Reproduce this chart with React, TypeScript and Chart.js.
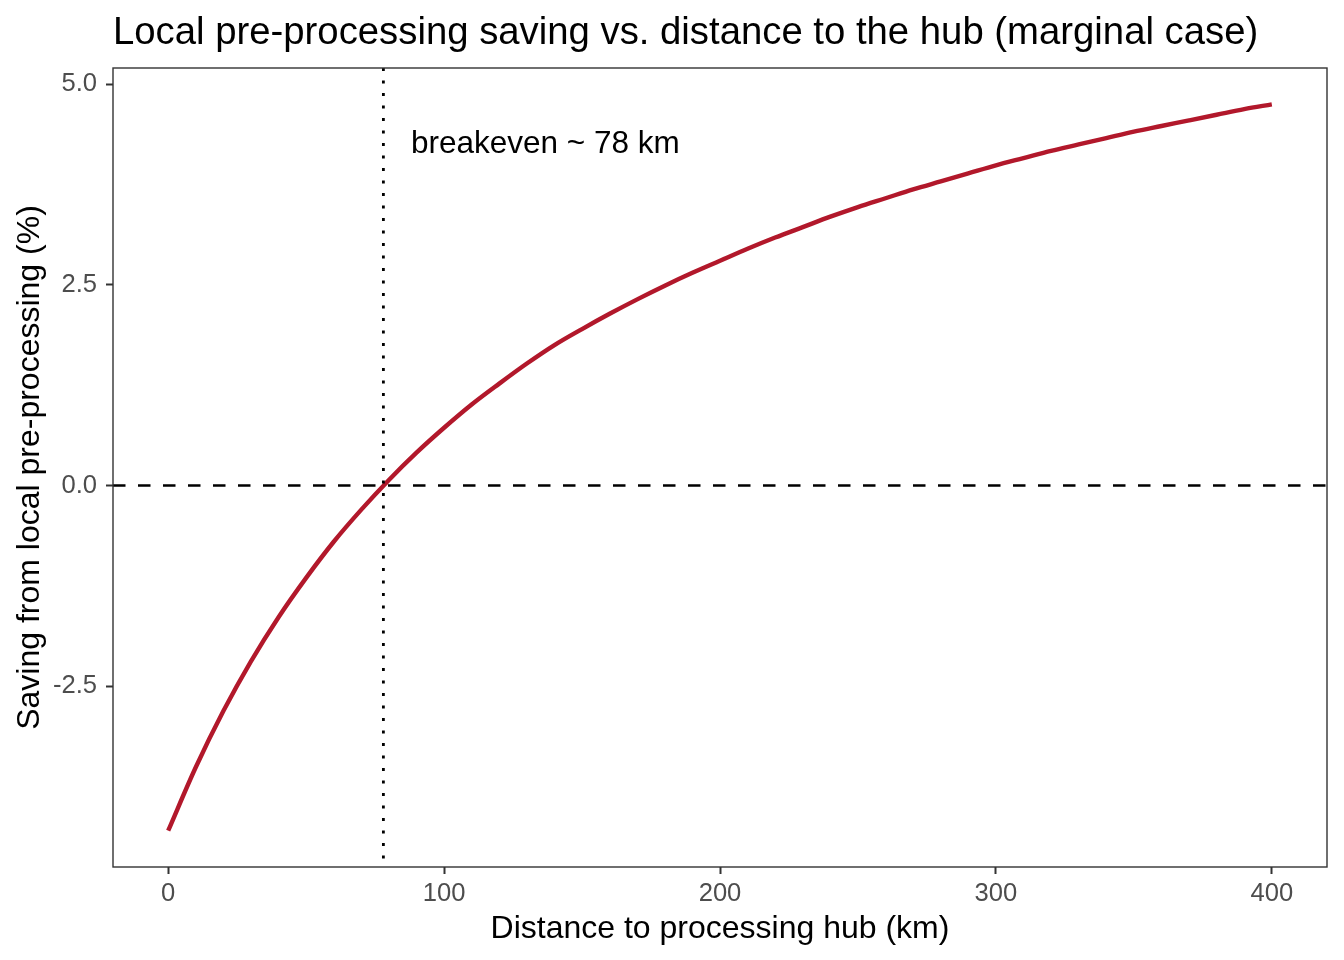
import { useEffect, useRef } from 'react'
import { Chart, registerables, Plugin } from 'chart.js'

Chart.register(...registerables)

// distance to the processing hub (km)
const distanceKm = [
  0, 10, 20, 30, 40, 50, 60, 70, 80, 90,
  100, 110, 120, 130, 140, 150, 160, 170, 180, 190,
  200, 210, 220, 230, 240, 250, 260, 270, 280, 290,
  300, 310, 320, 330, 340, 350, 360, 370, 380, 390, 400,
]

// saving from local pre-processing (%)
const savingPct = [
  -4.30, -3.51, -2.81, -2.19, -1.64, -1.15, -0.70, -0.30, 0.07, 0.41,
  0.72, 1.01, 1.27, 1.52, 1.75, 1.95, 2.14, 2.32, 2.49, 2.65,
  2.80, 2.95, 3.09, 3.22, 3.35, 3.47, 3.58, 3.69, 3.79, 3.89,
  3.99, 4.08, 4.17, 4.25, 4.33, 4.41, 4.48, 4.55, 4.62, 4.69, 4.75,
]

const xTicks = [0, 100, 200, 300, 400]
const yTicks = [-2.5, 0, 2.5, 5]

const breakevenKm = 78
const zeroLine = 0
const noteText = 'breakeven ~ 78 km'
const noteX = 88
const noteY = 4.25

const chartTitle = 'Local pre-processing saving vs. distance to the hub (marginal case)'
const xTitle = 'Distance to processing hub (km)'
const yTitle = 'Saving from local pre-processing (%)'

const FONT = '"Liberation Sans", Arial, Helvetica, sans-serif'

const decor: Plugin<'line'> = {
  id: 'decor',
  afterDatasetsDraw(chart) {
    const { ctx, chartArea: a, scales } = chart
    const x = scales.x
    const y = scales.y
    ctx.save()
    ctx.beginPath()
    ctx.rect(a.left, a.top, a.right - a.left, a.bottom - a.top)
    ctx.clip()
    ctx.strokeStyle = '#000000'
    ctx.lineCap = 'butt'

    // dashed line at zero
    const y0 = y.getPixelForValue(zeroLine)
    ctx.lineWidth = 2.6
    ctx.setLineDash([12.5, 12.5])
    ctx.beginPath()
    ctx.moveTo(a.left, y0)
    ctx.lineTo(a.right, y0)
    ctx.stroke()

    // dotted breakeven line
    const xb = x.getPixelForValue(breakevenKm)
    ctx.lineWidth = 2.8
    ctx.setLineDash([3, 9.5])
    ctx.beginPath()
    ctx.moveTo(xb, a.top)
    ctx.lineTo(xb, a.bottom)
    ctx.stroke()
    ctx.restore()
  },
  afterDraw(chart) {
    const { ctx, chartArea: a, scales } = chart
    ctx.save()
    // panel border
    ctx.strokeStyle = '#333333'
    ctx.lineWidth = 1.4
    ctx.setLineDash([])
    ctx.strokeRect(a.left, a.top, a.right - a.left, a.bottom - a.top)

    // annotation
    ctx.fillStyle = '#000000'
    ctx.font = `31.5px ${FONT}`
    ctx.textAlign = 'left'
    ctx.textBaseline = 'middle'
    ctx.fillText(noteText, scales.x.getPixelForValue(noteX), scales.y.getPixelForValue(noteY))

    // title
    ctx.font = `38.3px ${FONT}`
    ctx.textBaseline = 'alphabetic'
    ctx.fillText(chartTitle, a.left, 44)
    ctx.restore()
  },
}

export default function App() {
  const canvasRef = useRef<HTMLCanvasElement>(null)
  const chartRef = useRef<Chart | null>(null)

  useEffect(() => {
    document.body.style.margin = '0'
    if (!canvasRef.current) return
    const ctx = canvasRef.current.getContext('2d')
    if (!ctx) return

    const tickStyle = {
      drawOnChartArea: false,
      drawTicks: true,
      tickLength: 7,
      tickWidth: 2,
      tickColor: '#333333',
      color: '#333333',
    }

    chartRef.current = new Chart(ctx, {
      type: 'line',
      data: {
        datasets: [
          {
            data: distanceKm.map((d, i) => ({ x: d, y: savingPct[i] })),
            borderColor: '#B2182B',
            borderWidth: 4.4,
            pointRadius: 0,
            cubicInterpolationMode: 'monotone',
            fill: false,
          },
        ],
      },
      options: {
        animation: false,
        responsive: true,
        maintainAspectRatio: false,
        layout: { padding: { top: 68, right: 17, left: 0, bottom: 0 } },
        plugins: {
          legend: { display: false },
          tooltip: { enabled: false },
          title: { display: false },
        },
        scales: {
          x: {
            type: 'linear',
            min: -20,
            max: 420,
            afterBuildTicks: (s) => {
              s.ticks = xTicks.map((v) => ({ value: v }))
            },
            afterFit: (s) => {
              s.height = 93
            },
            grid: tickStyle,
            border: { display: false },
            ticks: {
              color: '#4D4D4D',
              font: { family: FONT, size: 25.6 },
              padding: 5,
              maxRotation: 0,
              callback: (v) => String(v),
            },
            title: {
              display: true,
              text: xTitle,
              color: '#000000',
              font: { family: FONT, size: 32 },
              padding: { top: 0, bottom: 12 },
            },
          },
          y: {
            type: 'linear',
            min: -4.7525,
            max: 5.2025,
            afterBuildTicks: (s) => {
              s.ticks = yTicks.map((v) => ({ value: v }))
            },
            afterFit: (s) => {
              s.width = 113
            },
            grid: tickStyle,
            border: { display: false },
            ticks: {
              color: '#4D4D4D',
              font: { family: FONT, size: 25.6 },
              padding: 9,
              callback: (v) => Number(v).toFixed(1),
            },
            title: {
              display: true,
              text: yTitle,
              color: '#000000',
              font: { family: FONT, size: 32 },
              padding: { top: 11, bottom: 0 },
            },
          },
        },
      },
      plugins: [decor],
    })

    return () => {
      if (chartRef.current) {
        chartRef.current.destroy()
        chartRef.current = null
      }
    }
  }, [])

  return (
    <div style={{ position: 'absolute', left: 0, top: 0, width: 1344, height: 960, background: '#ffffff' }}>
      <canvas ref={canvasRef} />
    </div>
  )
}
